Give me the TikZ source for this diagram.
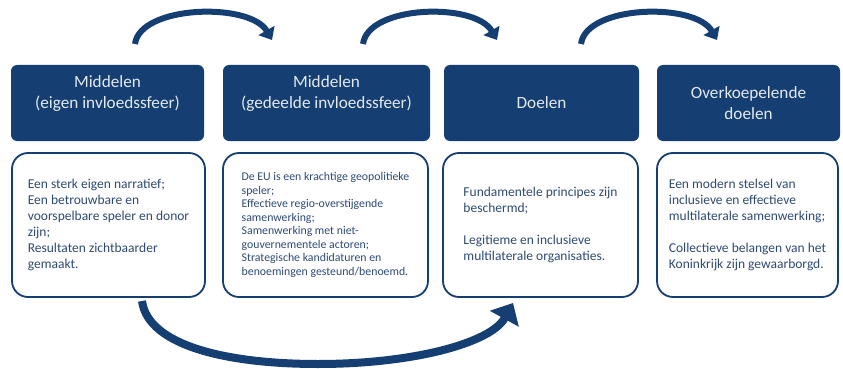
\documentclass[tikz,border=0pt]{standalone}
\usepackage{fontspec}
\setmainfont{Carlito}
\usetikzlibrary{positioning, arrows.meta, calc}
\definecolor{darkblue}{RGB}{21,62,114}
\definecolor{textblue}{RGB}{46,74,120}
\definecolor{headtext}{RGB}{228,234,243}

\begin{document}
\begin{tikzpicture}[
        x=1pt, y=-1pt,
        >={Triangle[width=18pt,length=11pt]},
        header/.style={rectangle, rounded corners=6pt, fill=darkblue, text=headtext, minimum height=76pt, align=center, inner sep=0pt, font=\fontsize{17.2}{21}\selectfont},
        body/.style={rectangle, rounded corners=16pt, draw=darkblue, line width=1.8pt, fill=white, text=textblue, minimum height=144pt, align=left, inner sep=0pt, font=\fontsize{13.5}{16}\selectfont},
        flow/.style={draw=darkblue, line width=6pt, ->},
    ]
        \useasboundingbox (0,0) rectangle (843,369);

        % Draw the header boxes
        \foreach \name/\x/\w/\txt in {1/107.5/193/{Middelen\\(eigen invloedssfeer)\\\mbox{}}, 2/326.5/207/{Middelen\\(gedeelde invloedssfeer)\\\mbox{}}, 3/541.5/195/{Doelen}, 4/748.5/183/{Overkoepelende\\doelen}}
            \node[header, minimum width=\w] (H-\name) at (\x,103) {\txt};

        % Draw the body boxes
        \node[body, minimum width=193] (B-1) at (108.5,225) {Een sterk eigen narratief;\\Een betrouwbare en\\voorspelbare speler en donor\\zijn;\\Resultaten zichtbaarder\\gemaakt.};
        \node[body, minimum width=205, font=\fontsize{11.8}{13.5}\selectfont] (B-2) at (325.5,225) {De EU is een krachtige geopolitieke\\speler;\\Effectieve regio-overstijgende\\samenwerking;\\Samenwerking met niet-\\gouvernementele actoren;\\Strategische kandidaturen en\\benoemingen gesteund/benoemd.};
        \node[body, minimum width=195] (B-3) at (540.5,225) {Fundamentele principes zijn\\beschermd;\\[16pt]Legitieme en inclusieve\\multilaterale organisaties.};
        \node[body, minimum width=181] (B-4) at (747.5,225) {Een modern stelsel van\\inclusieve en effectieve\\multilaterale samenwerking;\\[16pt]Collectieve belangen van het\\Koninkrijk zijn gewaarborgd.};

        % Arrows above the headers
        \foreach \i/\a/\b in {1/135/272, 2/363/497, 3/581/717} {
            \coordinate (T-\i-s) at (\a,44);
            \coordinate (T-\i-e) at (\b,40);
            \draw[flow] (T-\i-s) .. controls +(5,-39) and +(-22,-38) .. (T-\i-e);
        }

        % Arrow below the boxes
        \coordinate (U-s) at (142,301);
        \coordinate (U-e) at (513,303);
        \draw[flow, line width=8pt, -{Triangle[width=32pt,length=18pt]}] (U-s) .. controls +(6,45) and +(-90,0) .. (318,364) .. controls +(95,0) and +(-22,40) .. (U-e);
    \end{tikzpicture}
\end{document}
